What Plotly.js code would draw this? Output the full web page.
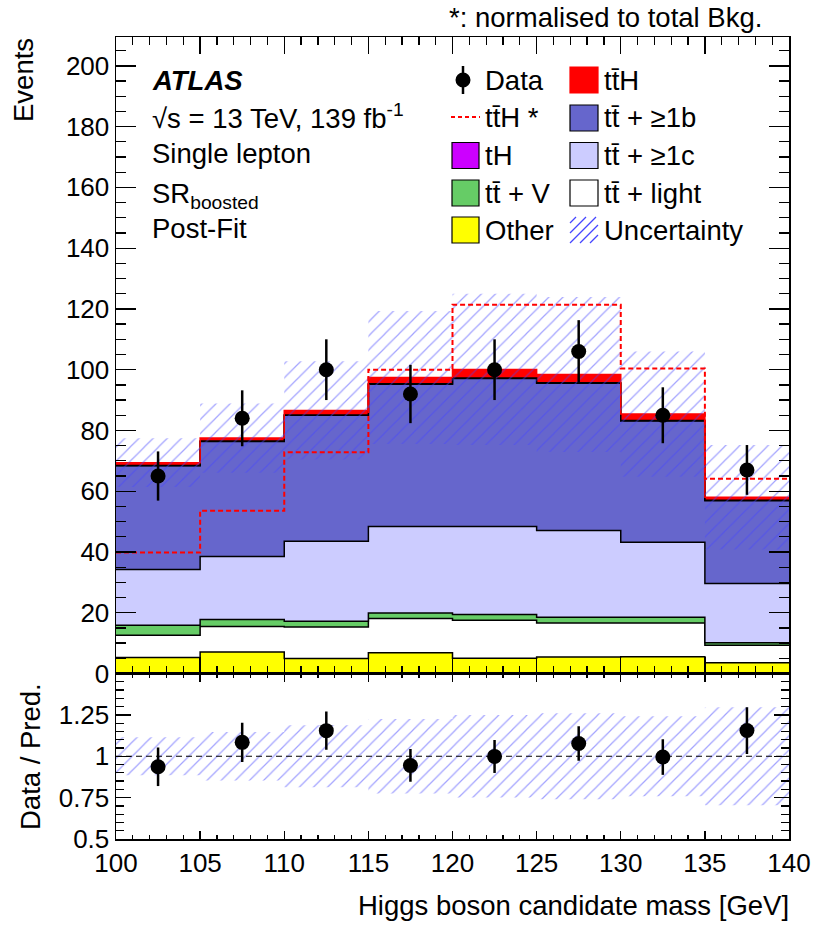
<!DOCTYPE html>
<html>
<head>
<meta charset="utf-8">
<script src="https://cdn.plot.ly/plotly-3.0.1.min.js"></script>
<style>html,body{margin:0;padding:0;background:#fff;}#plot{width:830px;height:936px;}</style>
</head>
<body>
<div id="plot"></div>
<script>
// ---------------- data ----------------
const binEdges   = [100, 105, 110, 115, 120, 125, 130, 135, 140];
const binCenters = [102.5, 107.5, 112.5, 117.5, 122.5, 127.5, 132.5, 137.5];

const other   = [5.3, 7.1, 4.9, 6.8, 5.0, 5.4, 5.5, 3.5];
const ttLight = [7.3, 8.4, 10.4, 11.3, 12.5, 11.2, 11.1, 5.8];
const ttV     = [3.3, 2.3, 1.9, 1.8, 1.9, 1.9, 1.9, 0.8];
const ttC     = [18.3, 20.7, 26.3, 28.5, 29.0, 28.6, 24.7, 19.5];
const ttB     = [34.2, 37.9, 41.5, 46.8, 48.7, 48.4, 39.9, 27.3];
const tH      = [0.1, 0.1, 0.1, 0.2, 0.2, 0.2, 0.2, 0.1];
const ttH     = [0.9, 1.0, 1.5, 2.0, 2.8, 2.7, 2.1, 1.0];

const uncertainty = [8.0, 11.4, 16.2, 21.9, 24.9, 25.5, 20.6, 17.2];
const ttHnorm     = [39.8, 53.6, 72.8, 100.0, 121.4, 121.4, 100.4, 64.1];

const dataVals = [65, 84, 100, 92, 100, 106, 85, 67];
const dataErr  = [8.1, 9.2, 10.0, 9.6, 10.0, 10.3, 9.2, 8.2];

const yTickVals  = [0, 20, 40, 60, 80, 100, 120, 140, 160, 180, 200];
const rTickVals  = [0.5, 0.75, 1, 1.25];
const rTickText  = ['0.5', '0.75', '1', '1.25'];
const xTickVals  = [100, 105, 110, 115, 120, 125, 130, 135, 140];

// ---------------- helpers ----------------
const TT = 't\u0074\u0304'; // t tbar
const FONT = 'Liberation Sans, Arial, Helvetica, sans-serif';
const TXT = 27.5;
const L = 116, R = 41, T = 37, B = 97, W = 830, H = 936;
const PW = W - L - R, PH = H - T - B;
const mainBottomPx = 673.5;
const split = (H - B - mainBottomPx) / PH;
const px = x => (x - L) / PW;
const py = y => (H - B - y) / PH;
const step = arr => arr.concat([arr[arr.length - 1]]);

// stack
const comps = [
  {v: other,   fill: '#ffff00', line: '#000000'},
  {v: ttLight, fill: '#ffffff', line: '#000000'},
  {v: ttV,     fill: '#66cc66', line: '#000000'},
  {v: ttC,     fill: '#ccccff', line: '#000000'},
  {v: ttB,     fill: '#6666cc', line: '#000000'},
  {v: tH,      fill: '#cc00ff', line: '#000000'},
  {v: ttH,     fill: '#ff0000', line: '#ff0000'}
];
const traces = [];
let cum = new Array(binCenters.length).fill(0);
comps.forEach((c, i) => {
  cum = cum.map((s, j) => s + c.v[j]);
  traces.push({
    type: 'scatter', mode: 'lines', x: binEdges, y: step(cum),
    xaxis: 'x', yaxis: 'y',
    line: {shape: 'hv', color: c.line, width: 1.5},
    fill: i === 0 ? 'tozeroy' : 'tonexty', fillcolor: c.fill,
    hoverinfo: 'skip'
  });
});
const total = cum.slice();

const HATCH_COL = 'rgb(70,70,255)';
const hatch = {shape: '/', fgcolor: HATCH_COL, size: 10, solidity: 0.12, fillmode: 'overlay'};

// uncertainty band (main)
traces.push({type: 'scatter', mode: 'lines', x: binEdges, y: step(total.map((t, j) => t - uncertainty[j])),
  xaxis: 'x', yaxis: 'y', line: {shape: 'hv', width: 0, color: 'rgba(0,0,0,0)'}, hoverinfo: 'skip'});
traces.push({type: 'scatter', mode: 'lines', x: binEdges, y: step(total.map((t, j) => t + uncertainty[j])),
  xaxis: 'x', yaxis: 'y', line: {shape: 'hv', width: 0, color: 'rgba(0,0,0,0)'},
  fill: 'tonexty', fillcolor: 'rgba(0,0,0,0)', fillpattern: hatch, hoverinfo: 'skip'});

// ttH normalised (dashed)
traces.push({type: 'scatter', mode: 'lines', x: binEdges, y: step(ttHnorm), xaxis: 'x', yaxis: 'y',
  line: {shape: 'hv', color: '#ff0000', width: 2, dash: '5px,3px'}, hoverinfo: 'skip'});

// data
traces.push({type: 'scatter', mode: 'markers', x: binCenters, y: dataVals, xaxis: 'x', yaxis: 'y',
  marker: {size: 15, color: '#000000'},
  error_y: {type: 'data', array: dataErr, visible: true, thickness: 2.5, width: 0, color: '#000000'},
  hoverinfo: 'skip'});

// ratio band
const relUnc = uncertainty.map((u, j) => u / total[j]);
traces.push({type: 'scatter', mode: 'lines', x: binEdges, y: step(relUnc.map(r => 1 - r)),
  xaxis: 'x2', yaxis: 'y2', line: {shape: 'hv', width: 0, color: 'rgba(0,0,0,0)'}, hoverinfo: 'skip'});
traces.push({type: 'scatter', mode: 'lines', x: binEdges, y: step(relUnc.map(r => 1 + r)),
  xaxis: 'x2', yaxis: 'y2', line: {shape: 'hv', width: 0, color: 'rgba(0,0,0,0)'},
  fill: 'tonexty', fillcolor: 'rgba(0,0,0,0)', fillpattern: hatch, hoverinfo: 'skip'});
// unity line
traces.push({type: 'scatter', mode: 'lines', x: [100, 140], y: [1, 1], xaxis: 'x2', yaxis: 'y2',
  line: {color: '#000000', width: 1.2, dash: '6px,4px'}, hoverinfo: 'skip'});
// ratio points
traces.push({type: 'scatter', mode: 'markers', x: binCenters, y: dataVals.map((d, j) => d / total[j]),
  xaxis: 'x2', yaxis: 'y2', marker: {size: 15, color: '#000000'},
  error_y: {type: 'data', array: dataErr.map((e, j) => e / total[j]), visible: true, thickness: 2.5, width: 0, color: '#000000'},
  hoverinfo: 'skip'});

// ---------------- legend & labels ----------------
const shapes = [];
const annotations = [];
const txt = (text, x, y, opts) => annotations.push(Object.assign({
  text: text, x: px(x), y: py(y), xref: 'paper', yref: 'paper', showarrow: false,
  xanchor: 'left', yanchor: 'middle', borderpad: 0, font: {family: FONT, size: TXT, color: '#000'}
}, opts || {}));
const box = (x0, y0, x1, y1, fill, line) => shapes.push({type: 'rect', xref: 'paper', yref: 'paper',
  x0: px(x0), x1: px(x1), y0: py(y1), y1: py(y0), fillcolor: fill, line: {color: line, width: 1.2}, layer: 'above'});

// Data marker
shapes.push({type: 'line', xref: 'paper', yref: 'paper', x0: px(463), x1: px(463), y0: py(94), y1: py(66),
  line: {color: '#000', width: 2.5}});
shapes.push({type: 'circle', xref: 'paper', yref: 'paper', xsizemode: 'pixel', ysizemode: 'pixel',
  xanchor: px(463), yanchor: py(80), x0: -7.5, x1: 7.5, y0: -7.5, y1: 7.5, fillcolor: '#000', line: {color: '#000', width: 0}});
// ttH * dashed
shapes.push({type: 'line', xref: 'paper', yref: 'paper', x0: px(451), x1: px(480), y0: py(117), y1: py(117),
  line: {color: '#ff0000', width: 2, dash: '4px,3px'}});
box(452, 142.5, 479, 168.5, '#cc00ff', '#000');
box(452, 180, 479, 206, '#66cc66', '#000');
box(452, 217, 479, 243, '#ffff00', '#000');
box(570, 67, 598, 93, '#ff0000', '#ff0000');
box(570, 105, 598, 131, '#6666cc', '#000');
box(570, 142.5, 598, 168.5, '#ccccff', '#000');
box(570, 180, 598, 206, '#ffffff', '#000');
// hatch legend symbol
[-20, -10, 0, 10, 20].forEach(k => {
  const v0 = Math.max(0, -k), v1 = Math.min(26, 28 - k);
  shapes.push({type: 'line', xref: 'paper', yref: 'paper',
    x0: px(570 + v0 + k), y0: py(243 - v0), x1: px(570 + v1 + k), y1: py(243 - v1),
    line: {color: HATCH_COL, width: 1.2}});
});

txt('Data', 484, 80);
txt(TT + 'H *', 484, 117);
txt('tH', 484, 155.5);
txt(TT + ' + V', 484, 193);
txt('Other', 484, 230);
txt(TT + 'H', 603, 80);
txt(TT + ' + \u22651b', 603, 118);
txt(TT + ' + \u22651c', 603, 155.5);
txt(TT + ' + light', 603, 193);
txt('Uncertainty', 603, 230);

txt('<b><i>ATLAS</i></b>', 151, 80);
txt('\u221As = 13 TeV, 139 fb<sup>-1</sup>', 151, 116);
txt('Single lepton', 151, 154);
txt('SR<sub>boosted</sub>', 151, 195);
txt('Post-Fit', 151, 228);

txt('*: normalised to total Bkg.', 763, 18, {xanchor: 'right'});
txt('Higgs boson candidate mass [GeV]', 790, 905, {xanchor: 'right'});
txt('Events', 23, 37, {textangle: -90, xanchor: 'center', yanchor: 'top'});
txt('Data / Pred.', 30, 757, {textangle: -90, xanchor: 'center', yanchor: 'middle'});

const axisCommon = {
  showline: true, linecolor: '#000', linewidth: 1.5, mirror: 'allticks',
  ticks: 'inside', tickcolor: '#000', tickwidth: 1.3,
  showgrid: false, zeroline: false,
  tickfont: {family: FONT, size: 26, color: '#000'}
};

const layout = {
  width: W, height: H,
  margin: {l: L, r: R, t: T, b: B, pad: 0},
  paper_bgcolor: '#fff', plot_bgcolor: '#fff',
  showlegend: false, hovermode: false,
  xaxis: Object.assign({}, axisCommon, {
    domain: [0, 1], anchor: 'y', range: [100, 140], tickvals: xTickVals, showticklabels: false,
    ticklen: 17, minor: {dtick: 1, tick0: 100, ticklen: 8, ticks: 'inside', tickcolor: '#000', tickwidth: 1.3}
  }),
  yaxis: Object.assign({}, axisCommon, {
    domain: [split, 1], anchor: 'x', range: [0, 209.5], tickvals: yTickVals,
    ticklen: 20, minor: {dtick: 5, tick0: 0, ticklen: 10, ticks: 'inside', tickcolor: '#000', tickwidth: 1.3}
  }),
  xaxis2: Object.assign({}, axisCommon, {
    domain: [0, 1], anchor: 'y2', range: [100, 140], tickvals: xTickVals, matches: 'x',
    ticklen: 8, minor: {dtick: 1, tick0: 100, ticklen: 4, ticks: 'inside', tickcolor: '#000', tickwidth: 1.3}
  }),
  yaxis2: Object.assign({}, axisCommon, {
    domain: [0, split], anchor: 'x2', range: [0.5, 1.5], tickvals: rTickVals, ticktext: rTickText,
    ticklen: 15, minor: {dtick: 0.05, tick0: 0.5, ticklen: 8, ticks: 'inside', tickcolor: '#000', tickwidth: 1.3}
  }),
  shapes: shapes,
  annotations: annotations
};

Plotly.newPlot('plot', traces, layout, {staticPlot: true, displayModeBar: false});
</script>
</body>
</html>
